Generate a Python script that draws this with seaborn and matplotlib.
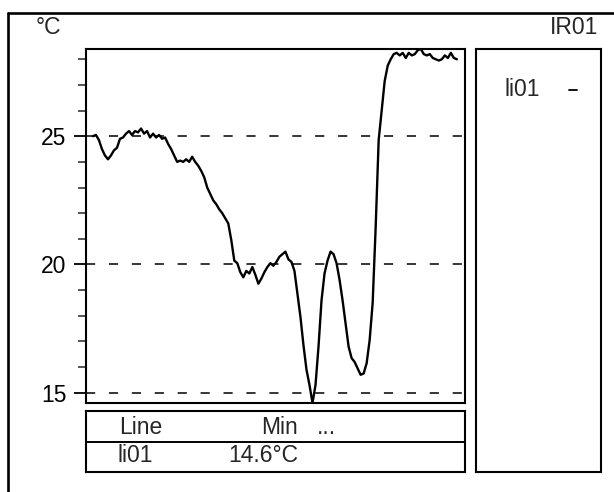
import numpy as np
import pandas as pd
import matplotlib
matplotlib.use("Agg")
import matplotlib.pyplot as plt
import matplotlib.ticker as ticker
from matplotlib.lines import Line2D
import seaborn as sns

# line profile li01 (temperature in °C along the line)
temps = [
    25.0, 25.05, 24.85, 24.5, 24.25, 24.1, 24.25, 24.45, 24.55, 24.9,
    24.95, 25.1, 25.2, 25.05, 25.2, 25.15, 25.3, 25.1, 25.2, 24.95,
    25.1, 24.95, 25.05, 24.9, 24.95, 24.7, 24.5, 24.25, 24.0, 24.05,
    24.0, 24.1, 24.0, 24.2, 24.0, 23.85, 23.65, 23.4, 23.0, 22.75,
    22.5, 22.35, 22.15, 22.0, 21.8, 21.6, 20.95, 20.15, 20.05, 19.7,
    19.5, 19.75, 19.65, 19.9, 19.6, 19.25, 19.45, 19.7, 19.9, 20.05,
    19.95, 20.1, 20.3, 20.4, 20.5, 20.2, 20.1, 19.75, 18.85, 17.95,
    16.85, 15.9, 15.3, 14.6, 15.3, 16.8, 18.6, 19.65, 20.15, 20.5,
    20.4, 20.05, 19.4, 18.6, 17.7, 16.8, 16.35, 16.2, 15.95, 15.7,
    15.75, 16.15, 17.05, 18.5, 21.45, 24.85, 26.0, 27.15, 27.75, 28.0,
    28.2, 28.25, 28.15, 28.25, 28.05, 28.25, 28.15, 28.2, 28.35, 28.4,
    28.2, 28.15, 28.2, 28.05, 28.0, 27.95, 28.0, 28.15, 28.05, 28.25,
    28.05, 28.0,
]
positions = list(range(len(temps)))
line_name = "li01"
area_name = "IR01"
unit = "°C"
min_label = "14.6°C"
major_ticks = [15, 20, 25]

df = pd.DataFrame({"pos": positions, "temp": temps})

sns.set_style("white")
plt.rcParams["font.family"] = ["Liberation Sans", "DejaVu Sans"]
FS = 16.5

fig = plt.figure(figsize=(6.14, 4.92), dpi=100)
W, H = 614, 492


def box(x0, y0, x1, y1):
    # pixel box (top-left origin) -> figure axes
    return fig.add_axes([x0 / W, 1 - y1 / H, (x1 - x0) / W, (y1 - y0) / H])


# main profile plot
ax = box(86, 49, 465, 403)
sns.lineplot(data=df, x="pos", y="temp", ax=ax, color="black", linewidth=1.7)
for v in major_ticks:
    ax.axhline(v, color="black", linewidth=1.1, linestyle=(0, (6, 9)), zorder=0)
ax.set_ylim(14.6, 28.4)
ax.set_xlim(-2.3, len(temps) - 1 + 2.7)
ax.set_xlabel("")
ax.set_ylabel("")
ax.set_xticks([])
ax.yaxis.set_major_locator(ticker.FixedLocator(major_ticks))
ax.yaxis.set_minor_locator(ticker.MultipleLocator(1))
ax.tick_params(axis="y", which="major", direction="out", length=9, width=1.3,
               pad=5, labelsize=FS, left=True, colors="black")
ax.tick_params(axis="y", which="minor", direction="out", length=6, width=1.1,
               left=True)
for s in ax.spines.values():
    s.set_visible(True)
    s.set_color("black")
    s.set_linewidth(1.5)

# table under the plot
tab = box(86, 411, 465, 472)
tab.set_xlim(86, 465)
tab.set_ylim(472, 411)
tab.set_xticks([])
tab.set_yticks([])
tab.axhline(442, color="black", linewidth=1.4)
tab.text(119, 428, "Line", fontsize=FS, va="center", ha="left")
tab.text(298, 428, "Min", fontsize=FS, va="center", ha="right")
tab.text(317, 428, "...", fontsize=FS, va="center", ha="left")
tab.text(117, 456, line_name, fontsize=FS, va="center", ha="left")
tab.text(298, 456, min_label, fontsize=FS, va="center", ha="right")
for s in tab.spines.values():
    s.set_color("black")
    s.set_linewidth(1.5)

# legend box on the right
leg = box(476, 49, 601, 472)
leg.set_xlim(476, 601)
leg.set_ylim(472, 49)
leg.set_xticks([])
leg.set_yticks([])
leg.text(505, 90, line_name, fontsize=FS, va="center", ha="left")
leg.plot([569, 577], [90, 90], color="black", linewidth=1.3)
for s in leg.spines.values():
    s.set_color("black")
    s.set_linewidth(1.5)

# outer frame and header
fig.add_artist(Line2D([8 / W, 1.0], [1 - 13 / H, 1 - 13 / H], color="black", linewidth=1.9))
fig.add_artist(Line2D([8 / W, 8 / W], [0, 1 - 13 / H], color="black", linewidth=1.9))
fig.text(36 / W, 1 - 27 / H, unit, fontsize=FS, va="center", ha="left")
fig.text(598 / W, 1 - 27 / H, area_name, fontsize=FS, va="center", ha="right")

fig.savefig("out.png", dpi=100, facecolor="white")
